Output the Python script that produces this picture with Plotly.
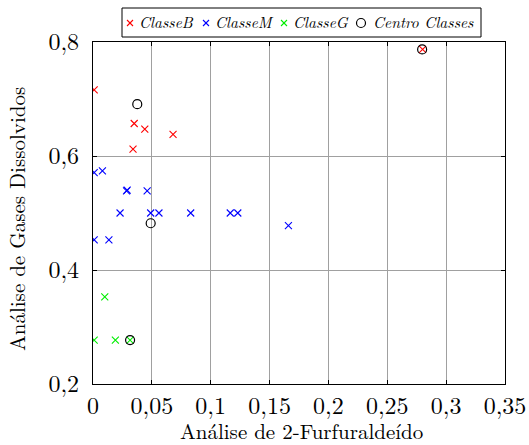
import plotly.graph_objects as go

# Class samples: 2-furfuraldehyde (x) vs dissolved gas analysis (y)
classe_b_x = [0.001, 0.035, 0.044, 0.068, 0.034, 0.280]
classe_b_y = [0.716, 0.657, 0.647, 0.638, 0.612, 0.787]

classe_m_x = [0.001, 0.008, 0.0285, 0.029, 0.046, 0.023, 0.049, 0.056, 0.083, 0.1166, 0.123, 0.166, 0.001, 0.0135]
classe_m_y = [0.571, 0.574, 0.539, 0.540, 0.539, 0.500, 0.500, 0.500, 0.500, 0.500, 0.500, 0.478, 0.453, 0.453]

classe_g_x = [0.010, 0.001, 0.019, 0.0315]
classe_g_y = [0.353, 0.277, 0.277, 0.277]

centro_x = [0.0376, 0.049, 0.0315, 0.2796]
centro_y = [0.691, 0.482, 0.277, 0.787]

x_ticks = [0, 0.05, 0.1, 0.15, 0.2, 0.25, 0.3, 0.35]
x_tick_text = ["0", "0,05", "0,1", "0,15", "0,2", "0,25", "0,3", "0,35"]
y_ticks = [0.2, 0.4, 0.6, 0.8]
y_tick_text = ["0,2", "0,4", "0,6", "0,8"]

x_title = "Análise de 2-Furfuraldeído"
y_title = "Análise de Gases Dissolvidos"

legend_names = ["ClasseB", "ClasseM", "ClasseG", "Centro Classes"]
legend_colors = ["#ff0000", "#0000ff", "#00ee00", "black"]

FONT = "Latin Modern Roman"
W, H = 529, 445
ML, MR, MT, MB = 93, 24, 42, 61
PW, PH = W - ML - MR, H - MT - MB


def px_x(px):
    return (px - ML) / PW


def px_y(py):
    return (H - MB - py) / PH


fig = go.Figure()


def cross_trace(xs, ys, color, name):
    return go.Scatter(
        x=xs, y=ys, mode="markers", name=name,
        marker=dict(symbol="x-thin", size=7, line=dict(color=color, width=1.1), color=color),
    )


fig.add_trace(cross_trace(classe_b_x, classe_b_y, legend_colors[0], legend_names[0]))
fig.add_trace(cross_trace(classe_m_x, classe_m_y, legend_colors[1], legend_names[1]))
fig.add_trace(cross_trace(classe_g_x, classe_g_y, legend_colors[2], legend_names[2]))
fig.add_trace(go.Scatter(
    x=centro_x, y=centro_y, mode="markers", name=legend_names[3],
    marker=dict(symbol="circle-open", size=9, color="black", line=dict(width=1.2)),
))

axis_common = dict(
    showline=True, linecolor="black", linewidth=1.2, mirror="allticks",
    ticks="inside", ticklen=4, tickcolor="black",
    showgrid=True, gridcolor="#a0a0a0", gridwidth=1,
    zeroline=False, automargin=False,
    tickfont=dict(family=FONT, size=24, color="black"),
)

fig.update_xaxes(range=[0, 0.35], tickvals=x_ticks, ticktext=x_tick_text, ticklabelstandoff=0, **axis_common)
fig.update_yaxes(range=[0.2, 0.8], tickvals=y_ticks, ticktext=y_tick_text, ticklabelstandoff=8, **axis_common)

annotations = [
    dict(xref="paper", yref="paper", x=px_x(301), y=px_y(430), xanchor="center", yanchor="middle",
         showarrow=False, text=x_title, font=dict(family=FONT, size=21, color="black")),
    dict(xref="paper", yref="paper", x=px_x(16), y=px_y(219), xanchor="center", yanchor="middle",
         showarrow=False, textangle=-90, text=y_title, font=dict(family=FONT, size=21, color="black")),
]

# Legend box drawn above the plot area
shapes = [dict(
    type="rect", xref="paper", yref="paper",
    x0=px_x(122), x1=px_x(481), y0=px_y(37), y1=px_y(8),
    line=dict(color="black", width=1), fillcolor="white", layer="above",
)]
sym_px = [130, 206, 284, 361]
text_px = [137, 213, 291, 371]
ly = 22
for i, (name, color) in enumerate(zip(legend_names, legend_colors)):
    sx = sym_px[i]
    if i < 3:
        d = 3
        shapes.append(dict(type="line", xref="paper", yref="paper",
                           x0=px_x(sx - d), x1=px_x(sx + d), y0=px_y(ly + 1 - d), y1=px_y(ly + 1 + d),
                           line=dict(color=color, width=1.1)))
        shapes.append(dict(type="line", xref="paper", yref="paper",
                           x0=px_x(sx - d), x1=px_x(sx + d), y0=px_y(ly + 1 + d), y1=px_y(ly + 1 - d),
                           line=dict(color=color, width=1.1)))
    else:
        r = 4.5
        shapes.append(dict(type="circle", xref="paper", yref="paper",
                           x0=px_x(sx - r), x1=px_x(sx + r), y0=px_y(ly + 1 - r), y1=px_y(ly + 1 + r),
                           line=dict(color=color, width=1.2)))
    annotations.append(dict(
        xref="paper", yref="paper", x=px_x(text_px[i]), y=px_y(ly),
        xanchor="left", yanchor="middle", showarrow=False,
        text="<i>" + name + "</i>",
        font=dict(family=FONT, size=15.5, color="black"),
    ))

fig.update_layout(
    width=W, height=H,
    margin=dict(l=ML, r=MR, t=MT, b=MB),
    plot_bgcolor="white", paper_bgcolor="white",
    font=dict(family=FONT, color="black"),
    showlegend=False,
    shapes=shapes, annotations=annotations,
)

fig.write_html("out.html")
